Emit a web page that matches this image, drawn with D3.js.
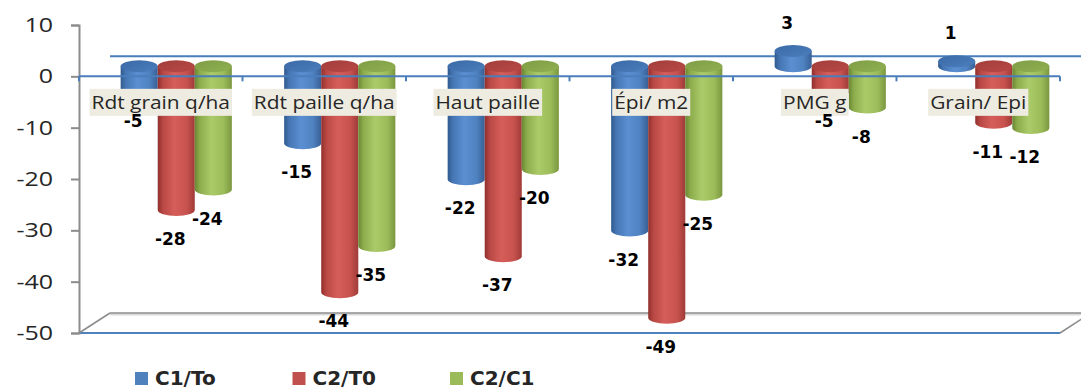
<!DOCTYPE html>
<html>
<head>
<meta charset="utf-8">
<script src="https://cdn.jsdelivr.net/npm/d3@7"></script>
<style>
  html, body { margin: 0; padding: 0; background: #fff; }
  svg { display: block; }
</style>
</head>
<body>
<svg id="chart" width="1081" height="387"></svg>
<script>
// Relative changes (%) per trait
const categories = ["Rdt grain q/ha", "Rdt paille q/ha", "Haut paille", "Épi/ m2", "PMG g", "Grain/ Epi"];
const seriesNames = ["C1/To", "C2/T0", "C2/C1"];
const c1To = [-5, -15, -22, -32, 3, 1];
const c2T0 = [-28, -44, -37, -49, -5, -11];
const c2C1 = [-24, -35, -20, -25, -8, -12];
const yTicks = [10, 0, -10, -20, -30, -40, -50];

const seriesValues = [c1To, c2T0, c2C1];
const seriesColors = ["#4f81bd", "#c0504d", "#9bbb59"];

const svg = d3.select("#chart");
const W = 1081, H = 387;

// plot area (front plane) and 3D depth offset
const plot = { left: 79, right: 1060, top: 25, bottom: 333 };
const depth = { dx: 31, dy: -20 };

const x0 = d3.scaleBand().domain(categories).range([plot.left, plot.right])
  .paddingInner(0.32).paddingOuter(0.16);
const x1 = d3.scaleBand().domain(seriesNames).range([0, x0.bandwidth()]);
const y = d3.scaleLinear().domain([-50, 10]).range([plot.bottom, plot.top]);

// ---- gradients for the cylinders
const defs = svg.append("defs");
const shades = [
  { body: ["#2f5a8e", "#4676b3", "#5b8fd2", "#4f82c0", "#385f95"], top: ["#3a69a6", "#4c7ebd"] },
  { body: ["#902f2c", "#b94844", "#d65e5a", "#c8524e", "#9f3b38"], top: ["#a33e3b", "#b84946"] },
  { body: ["#6a8733", "#8dad4d", "#abca68", "#9cbc5a", "#7a973f"], top: ["#7f9e44", "#90b053"] }
];
const offs = [0, 0.14, 0.45, 0.78, 1];
shades.forEach((s, i) => {
  const g = defs.append("linearGradient").attr("id", "body" + i)
    .attr("x1", 0).attr("x2", 1).attr("y1", 0).attr("y2", 0);
  s.body.forEach((c, k) => g.append("stop").attr("offset", offs[k]).attr("stop-color", c));
  const t = defs.append("linearGradient").attr("id", "top" + i)
    .attr("x1", 0).attr("x2", 1).attr("y1", 0).attr("y2", 1);
  t.append("stop").attr("offset", 0).attr("stop-color", s.top[0]);
  t.append("stop").attr("offset", 1).attr("stop-color", s.top[1]);
});

// ---- floor
const yFloor = y(-50);
svg.append("path")
  .attr("d", `M${plot.left},${yFloor} L${plot.left + depth.dx},${yFloor + depth.dy} L${plot.right + depth.dx},${yFloor + depth.dy} L${plot.right},${yFloor} Z`)
  .attr("fill", "#fff").attr("stroke", "none");
svg.append("line")
  .attr("x1", plot.left + depth.dx).attr("x2", plot.right + depth.dx)
  .attr("y1", yFloor + depth.dy + 1.5).attr("y2", yFloor + depth.dy + 1.5)
  .attr("stroke", "#d9d9d9").attr("stroke-width", 2);
svg.append("line")
  .attr("x1", plot.left + depth.dx).attr("x2", plot.right + depth.dx)
  .attr("y1", yFloor + depth.dy).attr("y2", yFloor + depth.dy)
  .attr("stroke", "#8c8c8c").attr("stroke-width", 1.5);
svg.append("line")
  .attr("x1", plot.left).attr("y1", yFloor)
  .attr("x2", plot.left + depth.dx).attr("y2", yFloor + depth.dy)
  .attr("stroke", "#8c8c8c").attr("stroke-width", 1.5);
svg.append("line")
  .attr("x1", plot.right).attr("y1", yFloor)
  .attr("x2", plot.right + depth.dx).attr("y2", yFloor + depth.dy)
  .attr("stroke", "#8c8c8c").attr("stroke-width", 1.5);
svg.append("line")
  .attr("x1", plot.left).attr("x2", plot.right)
  .attr("y1", yFloor).attr("y2", yFloor)
  .attr("stroke", "#4f81bd").attr("stroke-width", 2);

// ---- zero line on the back wall
svg.append("line")
  .attr("x1", plot.left + depth.dx).attr("x2", plot.right + depth.dx)
  .attr("y1", y(0) + depth.dy).attr("y2", y(0) + depth.dy)
  .attr("stroke", "#4a7ebb").attr("stroke-width", 2);

// ---- value axis
const axisG = svg.append("g").attr("transform", `translate(${plot.left},0)`)
  .call(d3.axisLeft(y).tickValues(yTicks).tickSize(8).tickFormat(d3.format("d")));
axisG.select(".domain").attr("stroke", "#8c8c8c").attr("stroke-width", 2);
axisG.selectAll(".tick line").attr("stroke", "#8c8c8c").attr("stroke-width", 2);
axisG.selectAll(".tick text").remove();

// tick labels, drawn with a slight horizontal stretch
svg.append("g").selectAll("text").data(yTicks).join("text")
  .attr("transform", d => `translate(53,${y(d)}) scale(1.25,1)`)
  .attr("text-anchor", "end").attr("dy", "0.35em")
  .attr("font-family", "'Open Sans', sans-serif").attr("font-size", 20)
  .attr("fill", "#262626")
  .text(d => d);

// ---- cylinders
const rx = x1.bandwidth() / 2, ry = 6;
const mid = { dx: depth.dx / 2, dy: depth.dy / 2 };
const bars = [];
seriesValues.forEach((vals, si) => {
  vals.forEach((v, ci) => {
    const cx = x0(categories[ci]) + x1(seriesNames[si]) + rx + mid.dx;
    const yz = y(0) + mid.dy, yv = y(v) + mid.dy;
    bars.push({ si, ci, v, cx, topY: Math.min(yz, yv), botY: Math.max(yz, yv) });
  });
});
// draw category by category, left series first
bars.sort((a, b) => a.ci - b.ci || a.si - b.si);
const cyl = svg.append("g").selectAll("g").data(bars).join("g");
cyl.append("path")
  .attr("d", d => `M${d.cx - rx},${d.topY} L${d.cx - rx},${d.botY} A${rx},${ry} 0 0 0 ${d.cx + rx},${d.botY} L${d.cx + rx},${d.topY} Z`)
  .attr("fill", d => `url(#body${d.si})`);
cyl.append("ellipse")
  .attr("cx", d => d.cx).attr("cy", d => d.topY)
  .attr("rx", rx).attr("ry", ry)
  .attr("fill", d => `url(#top${d.si})`);

// ---- category axis at zero (front plane)
svg.append("line")
  .attr("x1", plot.left).attr("x2", plot.right)
  .attr("y1", y(0)).attr("y2", y(0))
  .attr("stroke", "#4a7ebb").attr("stroke-width", 2);
const bounds = categories.map(c => x0(c) - x0.step() * x0.paddingInner() / 2);
bounds.push(plot.right);
bounds[0] = plot.left;
svg.append("g").selectAll("line").data(bounds).join("line")
  .attr("x1", d => d).attr("x2", d => d)
  .attr("y1", y(0)).attr("y2", y(0) + 5)
  .attr("stroke", "#4a7ebb").attr("stroke-width", 2);

// ---- category labels on a tan box
const catG = svg.append("g").selectAll("g").data(categories).join("g")
  .attr("transform", c => `translate(${x0(c) + x0.bandwidth() / 2},${y(0) + 26})`);
catG.each(function (c) {
  const g = d3.select(this);
  const t = g.append("text")
    .attr("transform", "scale(1.1,1)")
    .attr("text-anchor", "middle").attr("dy", "0.36em")
    .attr("font-family", "'Open Sans', sans-serif").attr("font-size", 19)
    .attr("fill", "#262626")
    .text(c);
  const bb = t.node().getBBox();
  g.insert("rect", "text")
    .attr("x", bb.x * 1.1 - 2).attr("width", bb.width * 1.1 + 4)
    .attr("y", -13.5).attr("height", 27)
    .attr("fill", "#eeece1");
});

// ---- value labels
svg.append("g").selectAll("text").data(bars).join("text")
  .attr("x", d => d.cx - 6)
  .attr("y", d => d.v < 0 ? d.botY + 29 : y(d.v) - 38)
  .attr("text-anchor", "middle").attr("dy", "0.36em")
  .attr("font-family", "'DejaVu Sans', sans-serif").attr("font-weight", "bold")
  .attr("font-size", 17).attr("fill", "#000")
  .text(d => d.v);

// ---- legend
const leg = svg.append("g").selectAll("g").data(seriesNames).join("g")
  .attr("transform", (d, i) => `translate(${135 + i * 157.5},0)`);
leg.append("rect").attr("x", 0).attr("y", 372).attr("width", 13).attr("height", 13)
  .attr("fill", (d, i) => seriesColors[i]);
leg.append("text").attr("x", 20).attr("y", 385)
  .attr("font-family", "'DejaVu Sans', sans-serif").attr("font-weight", "bold")
  .attr("font-size", 20).attr("fill", "#262626")
  .text(d => d);
</script>
</body>
</html>
